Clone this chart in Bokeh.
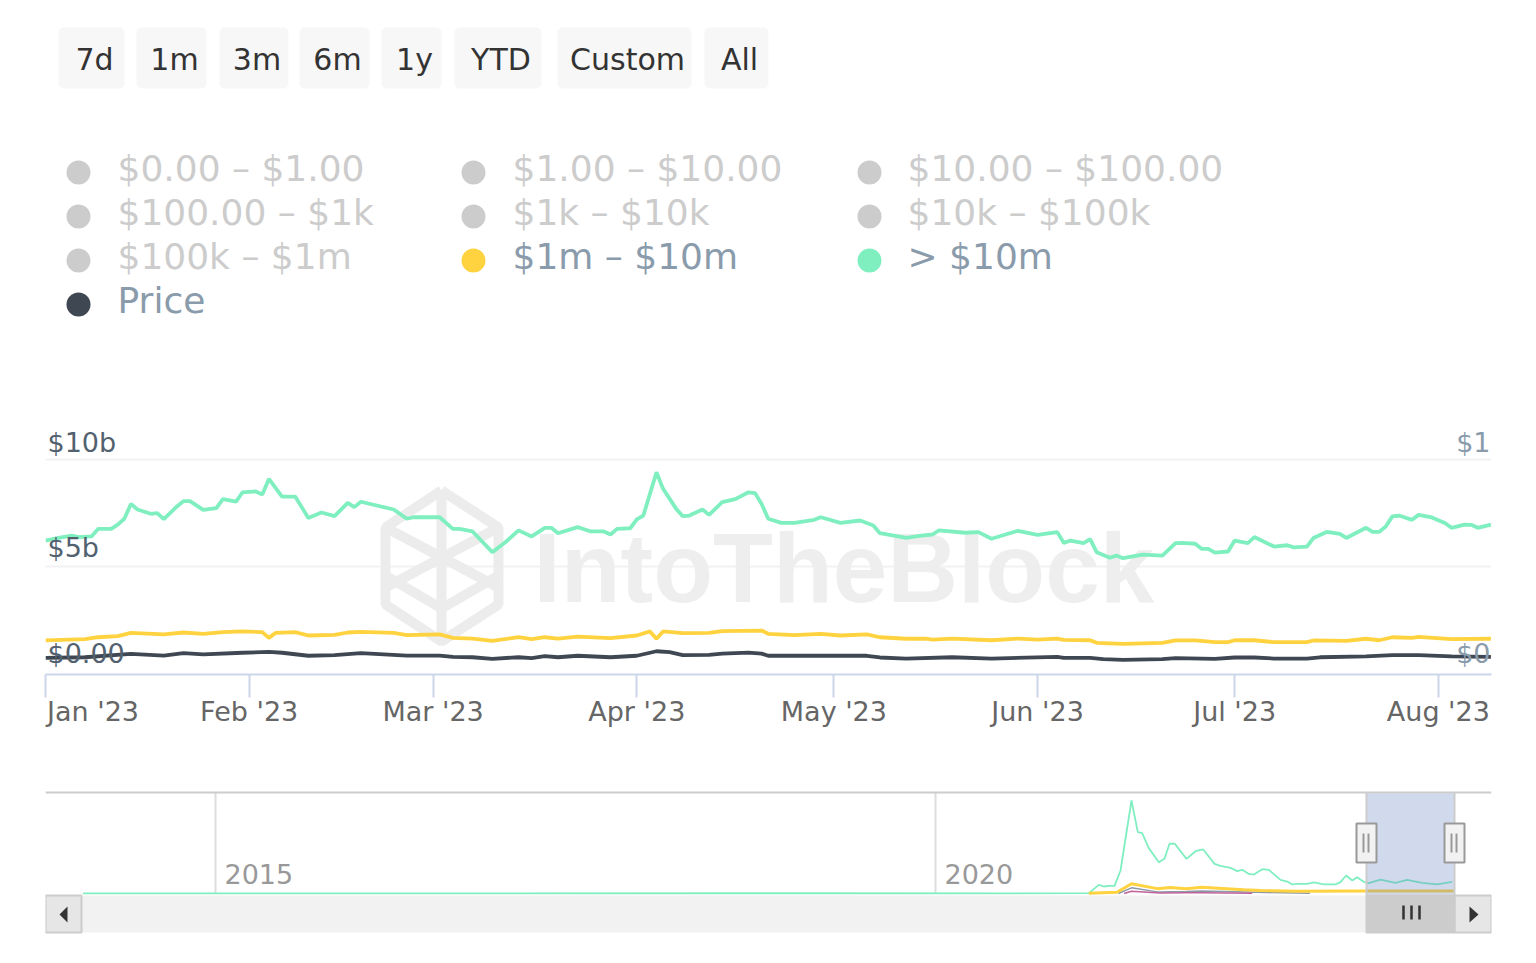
from bokeh.core.properties import value
from bokeh.embed import file_html
from bokeh.layouts import column
from bokeh.models import FixedTicker, Grid, Range1d
from bokeh.plotting import figure
from bokeh.resources import INLINE
import pandas as pd

# ---------- data ----------
RANGE_BUTTONS = ["7d", "1m", "3m", "6m", "1y", "YTD", "Custom", "All"]
LEGEND_LABELS = ["$0.00 – $1.00", "$1.00 – $10.00", "$10.00 – $100.00",
                 "$100.00 – $1k", "$1k – $10k", "$10k – $100k",
                 "$100k – $1m", "$1m – $10m", "> $10m", "Price"]
MONTH_LABELS = ["Jan '23", "Feb '23", "Mar '23", "Apr '23", "May '23", "Jun '23", "Jul '23", "Aug '23"]
MONTH_DATES = ["2023-01-01", "2023-02-01", "2023-03-01", "2023-04-01", "2023-05-01", "2023-06-01", "2023-07-01", "2023-08-01"]
LEFT_TICK_VALUES = [10, 5, 0]
LEFT_TICK_LABELS = ["$10b", "$5b", "$0.00"]
RIGHT_TICK_VALUES = [1, 0]
RIGHT_TICK_LABELS = ["$1", "$0"]

# day offset from 1 Jan 2023, value in $b
GREEN_DAYS = [0, 2, 4, 5, 7, 8, 10, 11, 12, 13, 14, 16, 17, 18, 20, 21, 22, 24, 26, 27, 29, 30, 32, 33, 34, 36, 38, 39, 40, 42, 44, 46, 47, 48, 53, 55, 56, 60, 62, 63, 65, 68, 70, 72, 74, 76, 77, 78, 81, 83, 85, 86, 87, 89, 90, 91, 93, 94, 96, 97, 98, 100, 101, 103, 105, 107, 108, 109, 110, 112, 114, 117, 118, 121, 124, 126, 127, 131, 133, 135, 136, 140, 142, 144, 147, 148, 151, 154, 155, 156, 158, 159, 160, 162, 163, 164, 167, 170, 172, 173, 175, 176, 177, 178, 180, 181, 183, 184, 187, 189, 190, 192, 193, 195, 197, 198, 201, 202, 203, 204, 205, 206, 208, 209, 211, 213, 214, 216, 217, 218, 220]
GREEN_VALUES = [6.22, 6.34, 6.45, 6.38, 6.41, 6.76, 6.76, 6.96, 7.23, 7.92, 7.66, 7.46, 7.49, 7.21, 7.80, 8.05, 8.05, 7.64, 7.72, 8.14, 8.03, 8.46, 8.50, 8.36, 9.08, 8.26, 8.26, 7.77, 7.27, 7.52, 7.35, 7.97, 7.77, 8.02, 7.66, 7.23, 7.30, 7.30, 6.76, 6.76, 6.64, 5.68, 6.14, 6.69, 6.41, 6.81, 6.81, 6.56, 6.84, 6.64, 6.64, 6.50, 6.76, 6.79, 7.20, 7.38, 9.39, 8.62, 7.69, 7.35, 7.38, 7.66, 7.41, 8.00, 8.14, 8.46, 8.42, 7.92, 7.23, 7.04, 7.04, 7.18, 7.30, 7.04, 7.15, 6.92, 6.56, 6.34, 6.44, 6.50, 6.69, 6.58, 6.61, 6.30, 6.58, 6.67, 6.48, 6.61, 6.11, 6.22, 6.10, 6.28, 5.68, 5.42, 5.52, 5.40, 5.57, 5.52, 6.10, 6.11, 6.07, 5.83, 5.83, 5.66, 5.71, 6.22, 6.10, 6.38, 5.94, 6.00, 5.90, 5.94, 6.34, 6.62, 6.53, 6.34, 6.81, 6.62, 6.62, 6.87, 7.34, 7.38, 7.18, 7.41, 7.29, 7.03, 6.81, 6.96, 6.95, 6.81, 6.96]
YELLOW_DAYS = [0, 6, 8, 11, 13, 18, 21, 24, 27, 30, 33, 34, 35, 38, 40, 44, 46, 48, 53, 55, 60, 62, 65, 68, 71, 72, 74, 76, 78, 81, 86, 90, 92, 93, 94, 97, 101, 103, 109, 110, 114, 118, 121, 125, 127, 131, 134, 135, 138, 144, 148, 151, 154, 155, 159, 160, 164, 170, 172, 175, 178, 180, 181, 184, 187, 192, 193, 198, 201, 203, 205, 208, 209, 214, 220]
YELLOW_VALUES = [1.58, 1.64, 1.73, 1.78, 1.93, 1.86, 1.95, 1.89, 1.97, 2.00, 1.97, 1.70, 1.93, 1.97, 1.81, 1.84, 1.95, 1.98, 1.93, 1.83, 1.86, 1.70, 1.67, 1.56, 1.69, 1.73, 1.64, 1.73, 1.67, 1.76, 1.69, 1.81, 2.00, 1.66, 2.00, 1.92, 1.93, 2.01, 2.04, 1.89, 1.83, 1.89, 1.81, 1.86, 1.73, 1.66, 1.67, 1.62, 1.67, 1.59, 1.67, 1.62, 1.67, 1.61, 1.59, 1.47, 1.42, 1.47, 1.58, 1.58, 1.50, 1.50, 1.59, 1.59, 1.50, 1.50, 1.58, 1.56, 1.66, 1.59, 1.73, 1.70, 1.75, 1.64, 1.66]
PRICE_DAYS = [0, 6, 13, 18, 21, 24, 30, 34, 36, 40, 44, 48, 55, 60, 62, 65, 68, 72, 74, 76, 78, 81, 86, 90, 93, 95, 97, 101, 103, 107, 109, 110, 118, 125, 127, 131, 138, 144, 154, 155, 159, 161, 164, 170, 172, 178, 181, 184, 187, 192, 194, 201, 205, 209, 214, 220]
PRICE_VALUES = [0.077, 0.080, 0.096, 0.088, 0.099, 0.093, 0.101, 0.105, 0.101, 0.087, 0.090, 0.099, 0.088, 0.088, 0.082, 0.080, 0.073, 0.080, 0.076, 0.085, 0.080, 0.087, 0.080, 0.087, 0.108, 0.104, 0.090, 0.091, 0.097, 0.102, 0.097, 0.087, 0.088, 0.087, 0.079, 0.074, 0.080, 0.074, 0.082, 0.077, 0.077, 0.071, 0.068, 0.071, 0.076, 0.073, 0.079, 0.079, 0.074, 0.074, 0.080, 0.084, 0.090, 0.090, 0.084, 0.082]

# navigator series: decimal year, value in $b
NAV_TICKS = [2015, 2020]
NAV_GREEN_YEARS = [2014.08, 2017.0, 2019.0, 2020.5, 2021.065, 2021.134, 2021.169, 2021.204, 2021.243, 2021.285, 2021.361, 2021.405, 2021.435, 2021.481, 2021.551, 2021.590, 2021.625, 2021.662, 2021.743, 2021.806, 2021.859, 2021.938, 2021.979, 2022.049, 2022.095, 2022.130, 2022.176, 2022.211, 2022.269, 2022.315, 2022.396, 2022.442, 2022.477, 2022.512, 2022.581, 2022.627, 2022.697, 2022.778, 2022.812, 2022.852, 2022.894, 2022.928, 2022.979, 2023.009, 2023.090, 2023.194, 2023.275, 2023.380, 2023.484, 2023.588]
NAV_GREEN_VALUES = [0.05, 0.05, 0.15, 0.1, 0.2, 5.35, 4.32, 4.73, 4.73, 14.2, 57.4, 37.9, 37.2, 28.0, 19.3, 21.4, 30.7, 30.7, 21.4, 26.1, 27.2, 18.3, 17.1, 15.8, 13.8, 14.6, 12.1, 11.7, 15.0, 14.6, 8.4, 7.4, 5.6, 6.0, 6.0, 6.8, 5.6, 5.6, 7.0, 11.1, 8.0, 10.1, 7.0, 6.4, 8.6, 6.6, 8.4, 6.6, 5.6, 7.2]
NAV_YELLOW_YEARS = [2021.065, 2021.26, 2021.361, 2021.54, 2021.63, 2021.74, 2021.85, 2022.14, 2022.26, 2022.5, 2023.0, 2023.6]
NAV_YELLOW_VALUES = [0.1, 0.8, 6.0, 3.0, 3.7, 2.9, 3.9, 2.3, 1.9, 1.4, 1.6, 1.5]
NAV_GRAY_YEARS = [2021.27, 2021.361, 2021.54, 2021.74, 2021.85, 2022.3, 2022.6]
NAV_GRAY_VALUES = [0.0, 3.5, 1.0, 1.3, 1.5, 0.6, 0.1]
NAV_PINK_YEARS = [2021.31, 2021.361, 2021.56, 2021.74, 2021.85, 2022.2]
NAV_PINK_VALUES = [0.0, 1.4, 0.3, 0.5, 0.5, 0.1]

# ---------- styles ----------
GREEN = "#7fefc0"
YELLOW = "#ffd23f"
DARK = "#3f4752"
FONT = "DejaVu Sans"
FV = value(FONT)
W = 1520
FRAME_L, FRAME_R = 45, 1491
BORDERS = dict(min_border_left=FRAME_L, min_border_right=W - FRAME_R)
H_TOP, H_MAIN, H_NAV = 420, 325, 205

# ---------- top: range buttons and legend ----------
top = figure(width=W, height=H_TOP, x_range=Range1d(FRAME_L, FRAME_R), y_range=Range1d(H_TOP, 0),
             x_axis_location=None, y_axis_location=None, toolbar_location=None, output_backend="svg",
             min_border_top=0, min_border_bottom=0, outline_line_color=None, **BORDERS)
top.grid.visible = False
btn_left = [58, 136, 219, 299, 381, 454, 557, 704]
btn_right = [124, 206, 288, 369, 441, 541, 691, 768]
top.quad(left=btn_left, right=btn_right, top=[27] * 8, bottom=[88] * 8, fill_color="#f7f7f7",
         line_color=None, border_radius=5)
top.text(x=[(a + b) / 2 + 3 for a, b in zip(btn_left, btn_right)], y=[59] * 8, text=RANGE_BUTTONS,
         text_font=FV, text_font_size="30px", text_color="#333333", text_align="center", text_baseline="middle")
col_text = [117, 512, 907]
col_dot = [78, 473, 869]
row_y = [168, 212, 256, 300]
lx, ly, dx, dy, dc, tc = [], [], [], [], [], []
for i, lab in enumerate(LEGEND_LABELS):
    c, r = i % 3, i // 3
    lx.append(col_text[c]); ly.append(row_y[r]); dx.append(col_dot[c]); dy.append(row_y[r] + 4)
    active = {"$1m – $10m": YELLOW, "> $10m": GREEN, "Price": DARK}.get(lab)
    dc.append(active or "#cccccc")
    tc.append("#8a9bab" if active else "#cccccc")
top.scatter(dx, dy, size=24, color=dc, line_color=None)
top.text(x=lx, y=ly, text=LEGEND_LABELS, text_font=FV, text_font_size="36px", text_color=tc,
         text_align="left", text_baseline="middle")

# ---------- main chart ----------
PX_DAY = 6.57
PX_B = 21.54
FRAME_T, FRAME_B = 420, 674
jan1 = pd.Timestamp("2023-01-01")
ms_day = 86400000.0
x0 = jan1.value / 1e6
x1 = x0 + (FRAME_R - FRAME_L) / PX_DAY * ms_day
ytop = (FRAME_B - FRAME_T) / PX_B
main = figure(width=W, height=H_MAIN, x_axis_type="datetime", x_range=Range1d(x0, x1), y_range=Range1d(0, ytop),
              y_axis_location=None, toolbar_location=None, output_backend="svg", outline_line_color=None,
              min_border_top=0, min_border_bottom=H_MAIN - (FRAME_B - FRAME_T), **BORDERS)
main.extra_y_ranges = {"price": Range1d(0, ytop / 10)}
main.grid.visible = False
main.add_layout(Grid(dimension=1, ticker=FixedTicker(ticks=[5, 10]), grid_line_color="#f2f2f2", grid_line_width=2))

# The tick marks sit on the month starts (drawn as minor ticks). The January label is
# clamped inside the plot in the original, so its label anchor sits to the right of its mark.
tick_ms = [pd.Timestamp(d).value / 1e6 for d in MONTH_DATES]
label_ms = [x0 + (92.5 - FRAME_L) / PX_DAY * ms_day] + tick_ms[1:]
ax = main.xaxis[0]
ax.ticker = FixedTicker(ticks=label_ms, minor_ticks=tick_ms)
ax.major_label_overrides = dict(zip(label_ms, MONTH_LABELS))
ax.axis_line_color = "#ccd6eb"; ax.axis_line_width = 2
ax.major_tick_line_color = None
ax.major_tick_in = 0; ax.major_tick_out = 0
ax.minor_tick_line_color = "#ccd6eb"; ax.minor_tick_line_width = 2
ax.minor_tick_in = 0; ax.minor_tick_out = 23
ax.major_label_text_font = FONT; ax.major_label_text_font_size = "27px"; ax.major_label_text_color = "#666666"
ax.major_label_standoff = -2

# watermark (drawn beneath the lines)
def mx(px):
    return x0 + (px - FRAME_L) / PX_DAY * ms_day
def my(px):
    return (FRAME_B - px) / PX_B
hexa = [[(441, 490), (498, 527), (498, 604), (441, 641), (385, 604), (385, 527), (441, 490)],
        [(385, 527), (498, 587)], [(498, 527), (385, 587)], [(441, 490), (441, 641)],
        [(385, 575), (441, 608), (498, 575)]]
main.multi_line(xs=[[mx(p[0]) for p in s] for s in hexa], ys=[[my(p[1]) for p in s] for s in hexa],
                line_color="#ececec", line_width=10)
main.text(x=[mx(533)], y=[my(567)], text=["IntoTheBlock"], text_font=value("Liberation Sans"),
          text_font_style="bold", text_font_size="98px", text_color="#eeeeee", text_align="left", text_baseline="middle")

def days_to_dates(days):
    return [jan1 + pd.Timedelta(days=d) for d in days]
main.line(days_to_dates(GREEN_DAYS), GREEN_VALUES, line_color=GREEN, line_width=3.8)
main.line(days_to_dates(YELLOW_DAYS), YELLOW_VALUES, line_color=YELLOW, line_width=3.8)
main.line(days_to_dates(PRICE_DAYS), PRICE_VALUES, line_color=DARK, line_width=3.8, y_range_name="price")

left_offsets = [-17, -19, -21]
for v, lab, off in zip(LEFT_TICK_VALUES, LEFT_TICK_LABELS, left_offsets):
    main.text(x=[x0], y=[v], text=[lab], x_offset=2, y_offset=off, text_font=FV, text_font_size="27px",
              text_color="#52616f", text_align="left", text_baseline="middle")
for v, lab, off in zip(RIGHT_TICK_VALUES, RIGHT_TICK_LABELS, [-17, -21]):
    main.text(x=[x1], y=[v], text=[lab], x_offset=-1, y_offset=off, text_font=FV, text_font_size="27px",
              text_color="#8a9bab", text_align="right", text_baseline="middle", y_range_name="price")

# ---------- navigator ----------
NAV_TOP_PX = 745
NAV_BASE = 893
NAV_PX_B = 1.62
NAV_PX_YEAR = 144.0
def nx(px):
    return 2020 + (px - 935) / NAV_PX_YEAR
def ny(px):
    return (NAV_BASE - px) / NAV_PX_B
NF_T, NF_B = 785, 940
nav = figure(width=W, height=H_NAV, x_range=Range1d(nx(FRAME_L), nx(FRAME_R)), y_range=Range1d(ny(NF_B), ny(NF_T)),
             x_axis_location=None, y_axis_location=None, toolbar_location=None, output_backend="svg",
             outline_line_color=None, min_border_top=NF_T - NAV_TOP_PX,
             min_border_bottom=NAV_TOP_PX + H_NAV - NF_B, **BORDERS)
nav.grid.visible = False
nav.segment(x0=NAV_TICKS, x1=NAV_TICKS, y0=[ny(792)] * 2, y1=[ny(NAV_BASE)] * 2, line_color="#dddddd", line_width=2)
nav.text(x=NAV_TICKS, y=[ny(873)] * 2, text=[str(t) for t in NAV_TICKS], x_offset=9, text_font=FV,
         text_font_size="27px", text_color="#999999", text_align="left", text_baseline="middle")
nav.line(NAV_GREEN_YEARS, NAV_GREEN_VALUES, line_color=GREEN, line_width=1.8)
nav.line(NAV_GRAY_YEARS, NAV_GRAY_VALUES, line_color="#8c9aa8", line_width=1.5)
nav.line(NAV_PINK_YEARS, NAV_PINK_VALUES, line_color="#c0639b", line_width=1.5)
nav.line(NAV_YELLOW_YEARS, NAV_YELLOW_VALUES, line_color=YELLOW, line_width=3)
# top rule
nav.segment(x0=[nx(45)], x1=[nx(1491)], y0=[ny(792)], y1=[ny(792)], line_color="#cccccc", line_width=2)
# selection mask and borders
nav.quad(left=[nx(1366)], right=[nx(1454)], top=[ny(793)], bottom=[ny(895)], fill_color="#6685c2", fill_alpha=0.3, line_color=None)
nav.segment(x0=[nx(1366), nx(1454)], x1=[nx(1366), nx(1454)], y0=[ny(792)] * 2, y1=[ny(895)] * 2,
            line_color="#cccccc", line_width=2)
# scrollbar
nav.quad(left=[nx(81)], right=[nx(1366)], top=[ny(895)], bottom=[ny(932)], fill_color="#f2f2f2", line_color=None)
nav.quad(left=[nx(45), nx(1454)], right=[nx(81), nx(1491)], top=[ny(895)] * 2, bottom=[ny(932)] * 2,
         fill_color="#e6e6e6", line_color="#cccccc", line_width=2)
nav.quad(left=[nx(1366)], right=[nx(1454)], top=[ny(895)], bottom=[ny(932)], fill_color="#cccccc", line_color="#cccccc", line_width=2)
nav.patches(xs=[[nx(67), nx(59), nx(67)], [nx(1469), nx(1478), nx(1469)]],
            ys=[[ny(906), ny(914), ny(922)], [ny(906), ny(914), ny(922)]], fill_color="#333333", line_color=None)
nav.segment(x0=[nx(1403), nx(1411), nx(1419)], x1=[nx(1403), nx(1411), nx(1419)], y0=[ny(905)] * 3, y1=[ny(919)] * 3,
            line_color="#333333", line_width=2.5)
# selection handles
nav.quad(left=[nx(1356), nx(1444)], right=[nx(1376), nx(1464)], top=[ny(823)] * 2, bottom=[ny(862)] * 2,
         fill_color="#f2f2f2", line_color="#999999", line_width=2)
hx = [1363, 1368, 1451, 1456]
nav.segment(x0=[nx(v) for v in hx], x1=[nx(v) for v in hx], y0=[ny(833)] * 4, y1=[ny(852)] * 4,
            line_color="#999999", line_width=2)

layout = column(top, main, nav, spacing=0)
open("out.html", "w").write(file_html(layout, INLINE))
